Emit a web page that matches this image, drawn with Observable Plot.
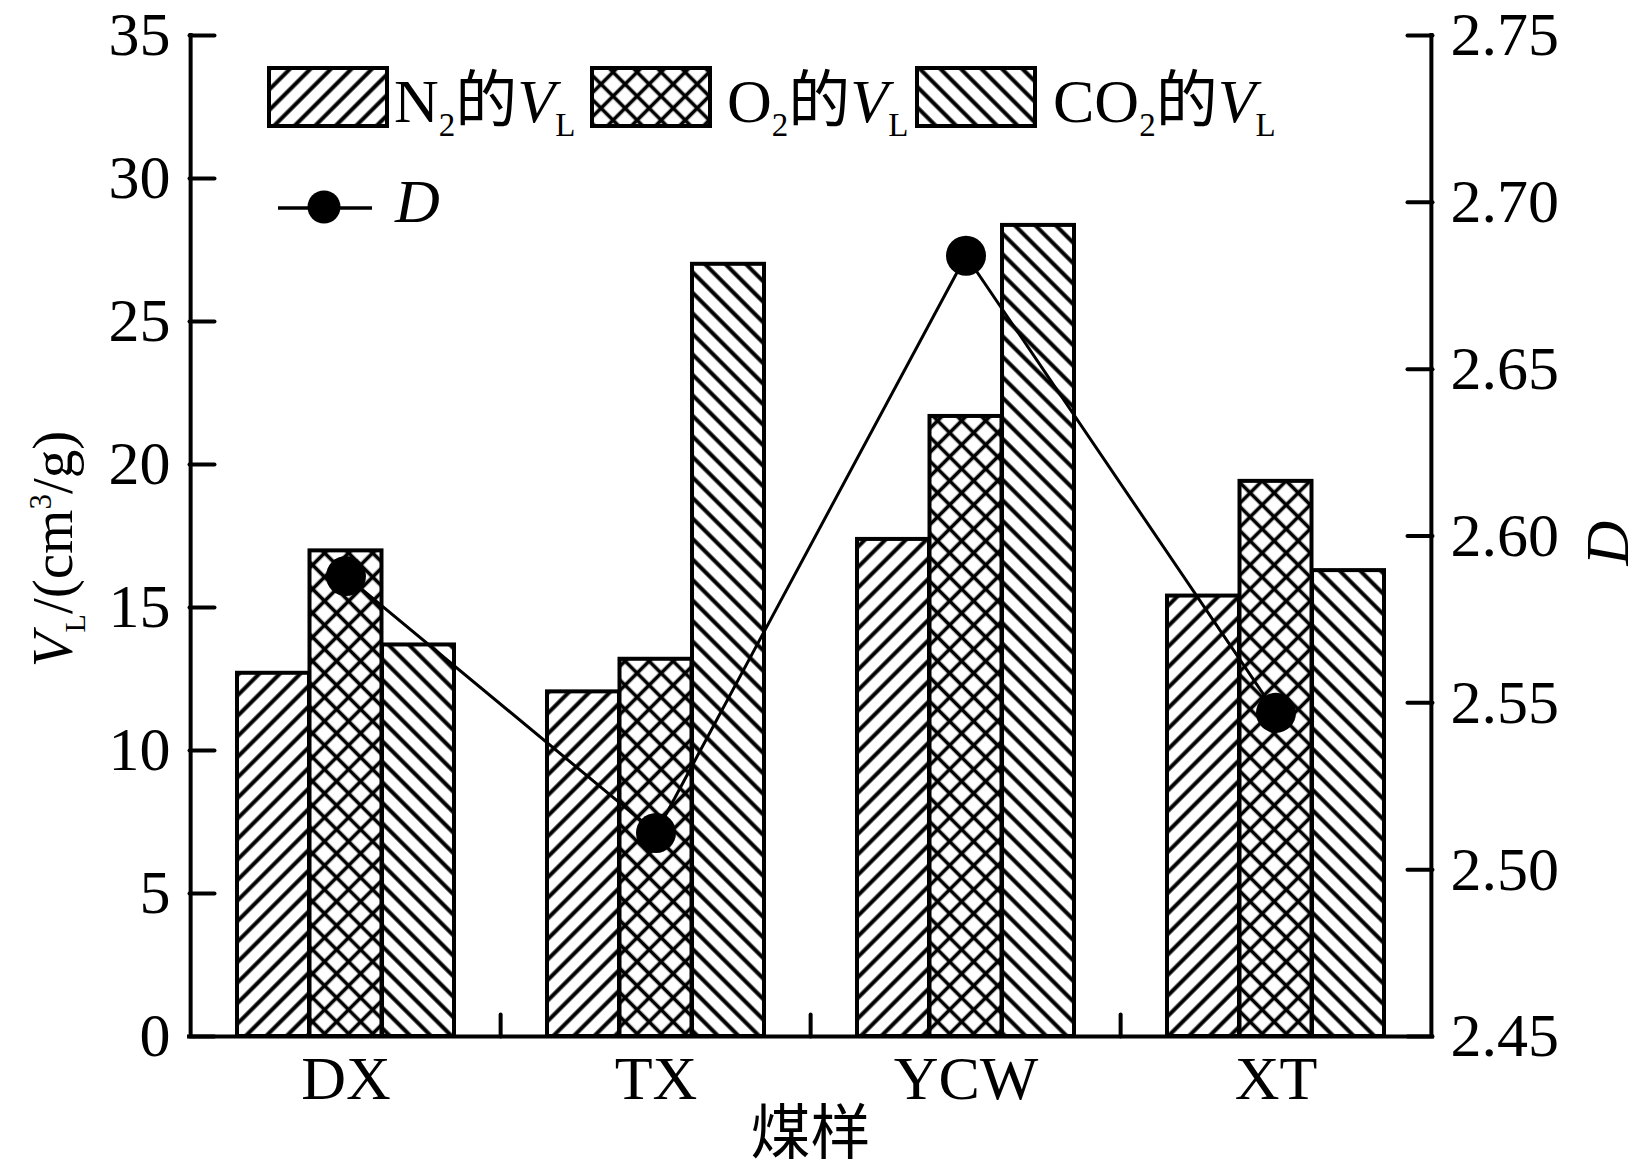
<!DOCTYPE html>
<html>
<head>
<meta charset="utf-8">
<script src="https://cdn.jsdelivr.net/npm/d3@7"></script>
<script src="https://cdn.jsdelivr.net/npm/@observablehq/plot@0.6"></script>
<style>
  html, body { margin: 0; padding: 0; background: #fff; }
  #chart { width: 1648px; height: 1172px; }
</style>
</head>
<body>
<div id="chart"></div>
<script>
// ---- data ----
const categories = ["DX", "TX", "YCW", "XT"];
const seriesNames = ["N₂的V_L", "O₂的V_L", "CO₂的V_L"];
const vlN2  = [12.70, 12.05, 17.38, 15.40];
const vlO2  = [16.98, 13.19, 21.68, 19.41];
const vlCO2 = [13.69, 27.00, 28.36, 16.29];
const fractalD = [2.588, 2.511, 2.684, 2.547];
const leftTicks = [0, 5, 10, 15, 20, 25, 30, 35];
const rightTicks = [2.45, 2.50, 2.55, 2.60, 2.65, 2.70, 2.75];
const leftDomain = [0, 35];
const rightDomain = [2.45, 2.75];

// ---- layout ----
const W = 1648, H = 1172;
const margin = {top: 35, right: 216, bottom: 136, left: 189};
const innerW = W - margin.left - margin.right;
const step = innerW / categories.length;
const bandW = step * 0.7;
const third = bandW / 3;

const toLeft = d => (d - rightDomain[0]) / (rightDomain[1] - rightDomain[0]) * (leftDomain[1] - leftDomain[0]) + leftDomain[0];
const fromLeft = v => (v - leftDomain[0]) / (leftDomain[1] - leftDomain[0]) * (rightDomain[1] - rightDomain[0]) + rightDomain[0];
const rows = vals => categories.map((c, i) => ({category: c, value: vals[i]}));

const shapeRight = {draw(ctx, l) { ctx.moveTo(0, 0); ctx.lineTo(l, 0); }};
const shapeLeft  = {draw(ctx, l) { ctx.moveTo(0, 0); ctx.lineTo(-l, 0); }};
const shapeUp    = {draw(ctx, l) { ctx.moveTo(0, 0); ctx.lineTo(0, -l); }};

const serif = "'Liberation Serif', 'Times New Roman', serif";
const cjk = "'Noto Sans CJK SC', sans-serif";
const barStyle = {x: "category", y: "value", stroke: "black", strokeWidth: 4};

const svg = Plot.plot({
  width: W, height: H,
  marginTop: margin.top, marginRight: margin.right, marginBottom: margin.bottom, marginLeft: margin.left,
  style: {background: "white", color: "black", fontFamily: serif},
  x: {domain: categories, paddingInner: 0.3, paddingOuter: 0.15, label: null},
  y: {domain: leftDomain, label: null},
  marks: [
    Plot.barY(rows(vlN2),  {...barStyle, fill: "url(#hatchN2)",  insetRight: 2 * third}),
    Plot.barY(rows(vlO2),  {...barStyle, fill: "url(#hatchO2)",  insetLeft: third, insetRight: third}),
    Plot.barY(rows(vlCO2), {...barStyle, fill: "url(#hatchCO2)", insetLeft: 2 * third}),
    Plot.line(rows(fractalD.map(toLeft)), {x: "category", y: "value", stroke: "black", strokeWidth: 3}),
    Plot.dot(rows(fractalD.map(toLeft)), {x: "category", y: "value", r: 20, fill: "black"}),
    Plot.ruleY([leftDomain[0]], {stroke: "black", strokeWidth: 4, strokeLinecap: "square"}),
    Plot.ruleX([categories[0]], {x: d => d, y1: () => leftDomain[0], y2: () => leftDomain[1], dx: -step / 2, stroke: "black", strokeWidth: 4, strokeLinecap: "square"}),
    Plot.ruleX([categories[categories.length - 1]], {x: d => d, y1: () => leftDomain[0], y2: () => leftDomain[1], dx: step / 2, stroke: "black", strokeWidth: 4, strokeLinecap: "square"}),
    Plot.vector(leftTicks, {y: d => d, frameAnchor: "left", length: 25, anchor: "start", shape: shapeRight, stroke: "black", strokeWidth: 4}),
    Plot.vector(rightTicks.map(toLeft), {y: d => d, frameAnchor: "right", length: 25, anchor: "start", shape: shapeLeft, stroke: "black", strokeWidth: 4}),
    Plot.vector(categories.slice(1), {x: d => d, frameAnchor: "bottom", dx: -step / 2, length: 22, anchor: "start", shape: shapeUp, stroke: "black", strokeWidth: 4}),
    Plot.axisY(leftTicks, {anchor: "left", tickSize: 0, tickPadding: 19, fontSize: 62, fontFamily: serif, dy: 0, label: null, tickFormat: d => String(d)}),
    Plot.axisY(rightTicks.map(toLeft), {anchor: "right", tickSize: 0, tickPadding: 18, fontSize: 62, fontFamily: serif, dy: 0, label: null, tickFormat: d => fromLeft(d).toFixed(2)}),
    Plot.axisX({anchor: "bottom", tickSize: 0, tickPadding: 18, fontSize: 62, fontFamily: serif, label: null})
  ]
});

// ---- hatch patterns ----
const s = d3.select(svg);
s.insert("defs", ":first-child").html(`
  <pattern id="hatchN2" patternUnits="userSpaceOnUse" width="14.5" height="14.5" patternTransform="rotate(45)">
    <rect width="14.5" height="14.5" fill="white"/>
    <line x1="7.25" y1="-1" x2="7.25" y2="15.5" stroke="black" stroke-width="4"/>
  </pattern>
  <pattern id="hatchCO2" patternUnits="userSpaceOnUse" width="14.5" height="14.5" patternTransform="rotate(-45)">
    <rect width="14.5" height="14.5" fill="white"/>
    <line x1="7.25" y1="-1" x2="7.25" y2="15.5" stroke="black" stroke-width="4"/>
  </pattern>
  <pattern id="hatchO2" patternUnits="userSpaceOnUse" width="17" height="17" patternTransform="rotate(45)">
    <rect width="17" height="17" fill="white"/>
    <line x1="8.5" y1="-1" x2="8.5" y2="18" stroke="black" stroke-width="3.6"/>
    <line x1="-1" y1="8.5" x2="18" y2="8.5" stroke="black" stroke-width="3.6"/>
  </pattern>
`);

// ---- legend ----
const legend = s.append("g").attr("class", "legend").attr("text-anchor", "start");
const legendItems = [
  {fill: "url(#hatchN2)",  x: 269, textX: 394, main: "N",  sub: "2"},
  {fill: "url(#hatchO2)",  x: 592, textX: 727, main: "O",  sub: "2"},
  {fill: "url(#hatchCO2)", x: 917, textX: 1053, main: "CO", sub: "2"}
];
legendItems.forEach(it => {
  legend.append("rect").attr("x", it.x).attr("y", 68).attr("width", 118).attr("height", 58)
    .attr("fill", it.fill).attr("stroke", "black").attr("stroke-width", 4);
  const t = legend.append("text").attr("x", it.textX).attr("y", 122).attr("text-anchor", "start")
    .attr("font-family", serif).attr("font-size", 62).attr("fill", "black");
  t.append("tspan").text(it.main);
  t.append("tspan").attr("font-size", 33).attr("dy", 14).text(it.sub);
  t.append("tspan").attr("font-family", cjk).attr("dy", -14).text("的");
  t.append("tspan").attr("font-style", "italic").text("V");
  t.append("tspan").attr("font-size", 33).attr("dy", 14).text("L");
});
legend.append("line").attr("x1", 278).attr("x2", 372).attr("y1", 208).attr("y2", 208)
  .attr("stroke", "black").attr("stroke-width", 3.5);
legend.append("circle").attr("cx", 324).attr("cy", 207).attr("r", 16.5).attr("fill", "black");
legend.append("text").attr("x", 395).attr("y", 222).attr("text-anchor", "start").attr("font-family", serif)
  .attr("font-size", 62).attr("font-style", "italic").attr("fill", "black").text("D");

// ---- axis titles ----
const yTitle = s.append("text").attr("transform", "translate(72,549) rotate(-90)")
  .attr("text-anchor", "middle").attr("font-family", serif).attr("font-size", 57).attr("fill", "black");
yTitle.append("tspan").attr("font-style", "italic").text("V");
yTitle.append("tspan").attr("font-size", 30).attr("dy", 13).text("L");
yTitle.append("tspan").attr("dy", -13).text("/(cm");
yTitle.append("tspan").attr("font-size", 31).attr("dy", -21).text("3");
yTitle.append("tspan").attr("dy", 21).text("/g)");

s.append("text").attr("transform", "translate(1628,543) rotate(-90)")
  .attr("text-anchor", "middle").attr("font-family", serif).attr("font-size", 62)
  .attr("font-style", "italic").attr("fill", "black").text("D");

s.append("text").attr("x", margin.left + innerW / 2).attr("y", 1154)
  .attr("text-anchor", "middle")
  .attr("font-family", cjk).attr("font-size", 60).attr("fill", "black").text("煤样");

document.getElementById("chart").appendChild(svg);
</script>
</body>
</html>
